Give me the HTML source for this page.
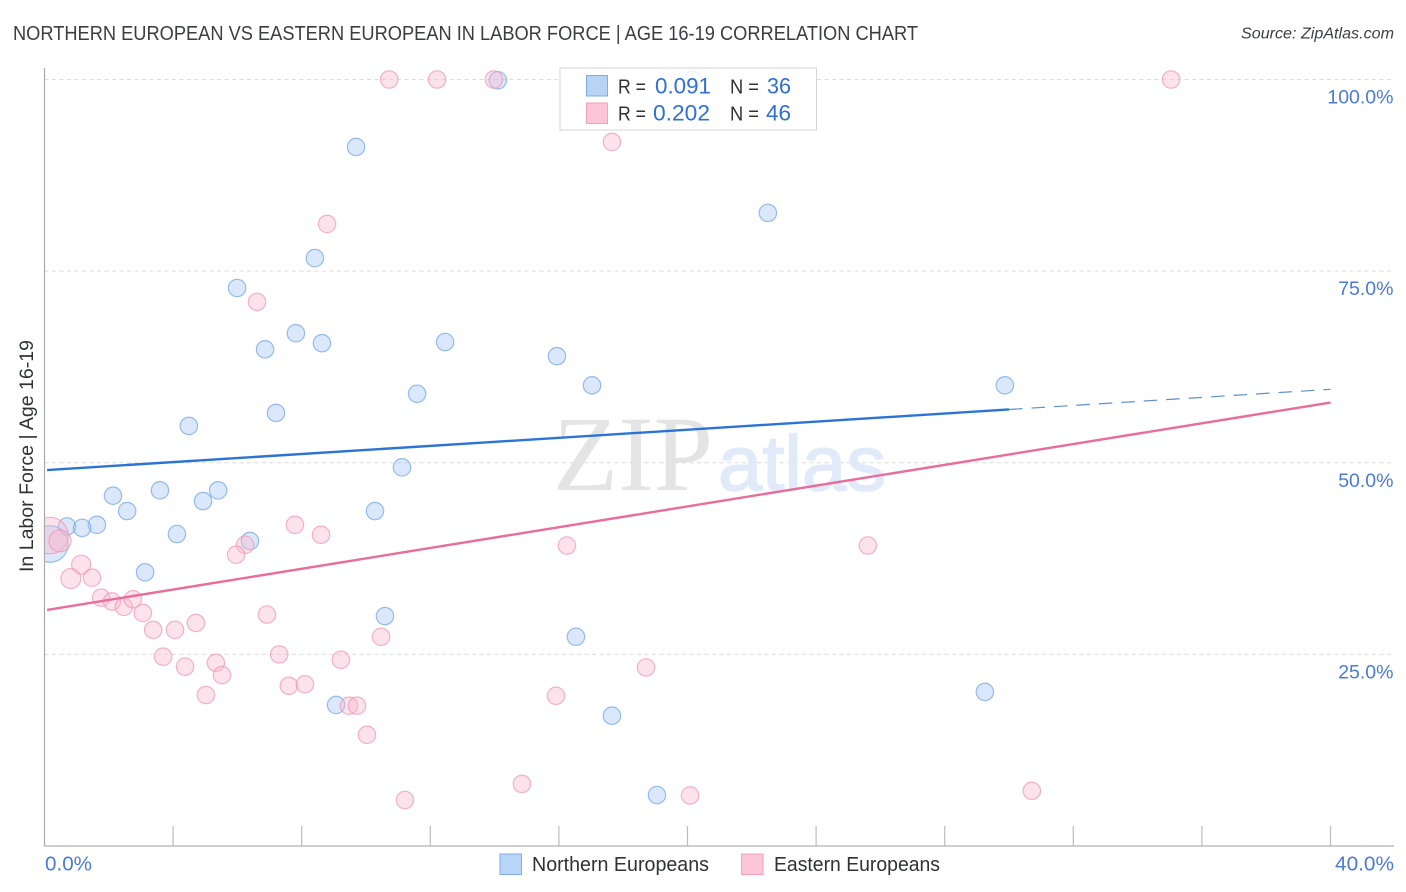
<!DOCTYPE html>
<html lang="en">
<head>
<meta charset="utf-8">
<title>Northern European vs Eastern European in Labor Force | Age 16-19 Correlation Chart</title>
<style>
html,body{margin:0;padding:0;background:#fff;width:1406px;height:892px;overflow:hidden}
svg{display:block}
text{font-family:"Liberation Sans",sans-serif}
</style>
</head>
<body>
<svg id="chart" xmlns="http://www.w3.org/2000/svg" width="1406" height="892" viewBox="0 0 1406 892">
  <defs>
    <clipPath id="plot-clip"><rect x="44.5" y="40" width="1350" height="806"></rect></clipPath>
  </defs>
  <rect x="0" y="0" width="1406" height="892" fill="#fff"></rect>
  <text x="13" y="40" font-size="20" fill="#3a3d42" textLength="905" lengthAdjust="spacingAndGlyphs">NORTHERN EUROPEAN VS EASTERN EUROPEAN IN LABOR FORCE | AGE 16-19 CORRELATION CHART</text>
  <text x="1241" y="38.5" font-size="15.5" font-style="italic" fill="#3c4046" textLength="153" lengthAdjust="spacingAndGlyphs">Source: ZipAtlas.com</text>
  <text transform="translate(33,456) rotate(-90)" font-size="19" fill="#2f3237" text-anchor="middle" textLength="232" lengthAdjust="spacingAndGlyphs">In Labor Force | Age 16-19</text>
  <g id="grid"></g>
  <g>
    <text x="553" y="490" font-size="107" fill="#e4e4e4" style="font-family:'Liberation Serif',serif" textLength="160" lengthAdjust="spacingAndGlyphs">ZIP</text>
    <text x="718" y="490" font-size="78" fill="#e0eaf8" stroke="#e0eaf8" stroke-width="1.5" style="font-family:'Liberation Sans',sans-serif" textLength="168" lengthAdjust="spacingAndGlyphs">atlas</text>
  </g>
  <g id="points" clip-path="url(#plot-clip)"></g>
  <g id="trends"></g>
  <g id="axes"></g>
  <g>
    <rect x="560" y="68" width="256.5" height="62" fill="#fff" fill-opacity="0.85" stroke="#d4d4d4" stroke-width="1"></rect>
    <rect x="586.5" y="75.5" width="21" height="20.5" fill="#b9d3f7" stroke="#80ace6" stroke-width="1"></rect>
    <rect x="586.5" y="103" width="21" height="20.5" fill="#fcc5d8" stroke="#f2a0bb" stroke-width="1"></rect>
    <text x="618" y="93.5" font-size="20" fill="#2f3237" textLength="28" lengthAdjust="spacingAndGlyphs">R =</text>
    <text x="655" y="93.5" font-size="22" fill="#2f6fd6" textLength="56" lengthAdjust="spacingAndGlyphs">0.091</text>
    <text x="730" y="93.5" font-size="20" fill="#2f3237" textLength="29" lengthAdjust="spacingAndGlyphs">N =</text>
    <text x="767" y="93.5" font-size="22" fill="#2f6fd6" textLength="24" lengthAdjust="spacingAndGlyphs">36</text>
    <text x="618" y="120.5" font-size="20" fill="#2f3237" textLength="28" lengthAdjust="spacingAndGlyphs">R =</text>
    <text x="653" y="120.5" font-size="22" fill="#2f6fd6" textLength="57" lengthAdjust="spacingAndGlyphs">0.202</text>
    <text x="730" y="120.5" font-size="20" fill="#2f3237" textLength="29" lengthAdjust="spacingAndGlyphs">N =</text>
    <text x="766" y="120.5" font-size="22" fill="#2f6fd6" textLength="25" lengthAdjust="spacingAndGlyphs">46</text>
  </g>
  <g>
    <rect x="500" y="854" width="21.5" height="20.5" fill="#b9d5fa" stroke="#80ace6" stroke-width="1"></rect>
    <text x="532" y="871" font-size="20" fill="#2f3237" textLength="177" lengthAdjust="spacingAndGlyphs">Northern Europeans</text>
    <rect x="741.5" y="854" width="21.5" height="20.5" fill="#fcc5d8" stroke="#f2a0bb" stroke-width="1"></rect>
    <text x="774" y="871" font-size="20" fill="#2f3237" textLength="166" lengthAdjust="spacingAndGlyphs">Eastern Europeans</text>
  </g>
</svg>
<script>
// Chart data (x = Northern/Eastern European share %, y = in labor force %)
const xTickValues = [0, 4, 8, 12, 16, 20, 24, 28, 32, 36, 40];
const xTickLabels = ['0.0%', '40.0%'];
const yTickValues = [25, 50, 75, 100];
const yTickLabels = ['25.0%', '50.0%', '75.0%', '100.0%'];

const northernX = [14.1, 20.17, 9.69, 22.5, 8.41, 5.99, 7.82, 8.63, 6.86, 12.46, 15.94, 17.03, 29.87, 11.59, 7.2, 4.49, 11.12, 3.59, 5.4, 2.13, 4.93, 2.57, 10.28, 1.63, 0.7, 1.17, 4.12, 6.39, 0.17, 3.13, 10.59, 16.53, 29.25, 9.07, 17.65, 19.05];
const northernY = [99.9, 100, 91.2, 82.6, 76.7, 72.8, 66.9, 65.6, 64.8, 65.75, 63.9, 60.1, 60.1, 59, 56.5, 54.8, 49.4, 46.4, 46.4, 45.7, 45, 43.7, 43.7, 41.9, 41.7, 41.5, 40.7, 39.8, 39.4, 35.7, 30, 27.3, 20.1, 18.4, 17, 6.65];
const northernWeight = [1, 1, 1, 1, 1, 1, 1, 1, 1, 1, 1, 1, 1, 1, 1, 1, 1, 1, 1, 1, 1, 1, 1, 1, 1, 1, 1, 1, 4.4, 1, 1, 1, 1, 1, 1, 1];

const easternX = [10.72, 12.21, 13.98, 35.04, 17.65, 8.79, 6.61, 7.79, 8.6, 16.25, 25.61, 6.24, 5.96, 0.17, 0.48, 1.14, 0.82, 1.48, 1.76, 2.1, 2.47, 2.75, 3.06, 3.38, 4.06, 4.71, 3.69, 4.37, 5.33, 5.52, 5.02, 6.92, 7.3, 7.6, 8.1, 9.22, 10.47, 9.47, 9.72, 10.03, 11.21, 14.85, 15.91, 18.71, 20.08, 30.71];
const easternY = [100, 100, 100, 100, 91.85, 81.15, 70.98, 41.9, 40.6, 39.2, 39.2, 39.3, 38, 40.5, 39.8, 36.7, 34.9, 35, 32.4, 31.9, 31.2, 32.2, 30.4, 28.2, 28.2, 29.1, 24.7, 23.4, 23.9, 22.3, 19.7, 30.2, 25, 20.9, 21.1, 24.3, 27.3, 18.3, 18.3, 14.5, 6, 8.1, 19.6, 23.3, 6.6, 7.2];
const easternWeight = [1, 1, 1, 1, 1, 1, 1, 1, 1, 1, 1, 1, 1, 4.4, 1.6, 1.2, 1.32, 1, 1, 1, 1, 1, 1, 1, 1, 1, 1, 1, 1, 1, 1, 1, 1, 1, 1, 1, 1, 1, 1, 1, 1, 1, 1, 1, 1, 1];

const northernTrendX = [0.05, 30, 40];
const northernTrendY = [49.05, 56.95, 59.58];
const easternTrendX = [0.05, 40];
const easternTrendY = [30.8, 57.86];

// Axis functions
const xScale = v => 44.5 + (v / 40) * 1286;
const yScale = v => 846 - (v / 100) * 766.5;
const radiusFor = w => 8.7 * Math.sqrt(w);

const NS = 'http://www.w3.org/2000/svg';
function make(tag, attrs, parent) {
  const el = document.createElementNS(NS, tag);
  for (const k in attrs) el.setAttribute(k, attrs[k]);
  parent.appendChild(el);
  return el;
}
const grid = document.getElementById('grid');
const pointsG = document.getElementById('points');
const trends = document.getElementById('trends');
const axes = document.getElementById('axes');

// Gridlines and y labels
yTickValues.forEach((v, i) => {
  const line = make('line', {x1: 44.5, x2: 1394, y1: yScale(v), y2: yScale(v), stroke: '#dcdcdc', 'stroke-width': 1, 'stroke-dasharray': '4 3.5'}, grid);
  
  
  const t = make('text', {x: 1393.5, y: yScale(v) + 24, 'font-size': 19.5, fill: '#4b7bd6', 'text-anchor': 'end'}, axes);
  t.textContent = yTickLabels[i];
  
  
});

// Points
function drawSeries(xs, ys, ws, fill, stroke, prefix) {
  xs.forEach((x, i) => {
    const c = make('circle', {cx: xScale(x), cy: yScale(ys[i]), r: radiusFor(ws[i]), fill: fill, 'fill-opacity': 0.42, stroke: stroke, 'stroke-opacity': 0.7, 'stroke-width': 1.2}, pointsG);
    
    
  });
}
drawSeries(northernX, northernY, northernWeight, '#a9c9f5', '#6ea2e4', 'northern-european');
drawSeries(easternX, easternY, easternWeight, '#f9b9cf', '#ee94b4', 'eastern-european');

// Trend lines
const bs = make('line', {x1: xScale(northernTrendX[0]) + 1, y1: yScale(northernTrendY[0]), x2: xScale(northernTrendX[1]), y2: yScale(northernTrendY[1]), stroke: '#2b74d6', 'stroke-width': 2.4}, trends);


const bd = make('line', {x1: xScale(northernTrendX[1]), y1: yScale(northernTrendY[1]), x2: xScale(northernTrendX[2]), y2: yScale(northernTrendY[2]), stroke: '#5f8fd0', 'stroke-width': 1.2, 'stroke-dasharray': '13.5 9'}, trends);


const ps = make('line', {x1: xScale(easternTrendX[0]) + 1, y1: yScale(easternTrendY[0]), x2: xScale(easternTrendX[1]), y2: yScale(easternTrendY[1]), stroke: '#e96c9b', 'stroke-width': 2.4}, trends);



// Axes
const yAxis = make('line', {x1: 44.5, x2: 44.5, y1: 68, y2: 846.5, stroke: '#aaaaaa', 'stroke-width': 1.2}, axes);


const xAxis = make('line', {x1: 44, x2: 1394, y1: 846, y2: 846, stroke: '#b0b0b0', 'stroke-width': 1.2}, axes);


xTickValues.forEach(v => {
  if (v === 0) return;
  const tk = make('line', {x1: xScale(v), x2: xScale(v), y1: 826, y2: 846, stroke: '#bbbbbb', 'stroke-width': 1.2}, axes);
  
  
});
const xl0 = make('text', {x: 45, y: 870.5, 'font-size': 20, fill: '#4b7bd6', textLength: 47, lengthAdjust: 'spacingAndGlyphs'}, axes);
xl0.textContent = xTickLabels[0];


const xl1 = make('text', {x: 1335, y: 870.5, 'font-size': 20, fill: '#4b7bd6', textLength: 59, lengthAdjust: 'spacingAndGlyphs'}, axes);
xl1.textContent = xTickLabels[1];


</script>
</body>
</html>
